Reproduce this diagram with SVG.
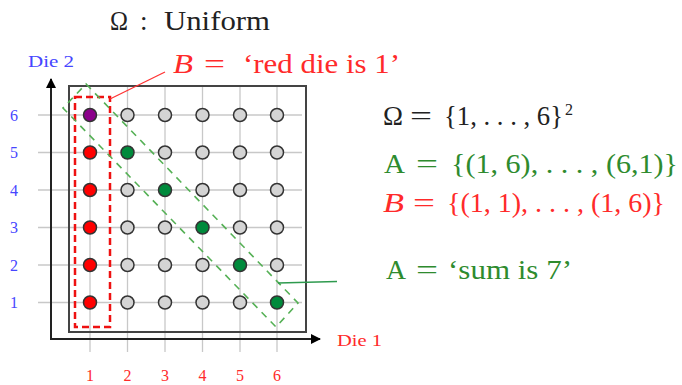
<svg xmlns="http://www.w3.org/2000/svg" width="682" height="385" viewBox="0 0 682 385">
<defs>
<style>
.grid{stroke:#c8c8c8;stroke-width:1.3}
.dot{stroke:#333;stroke-width:1.5}
.g{fill:#d4d4d4}
.r{fill:#ff0000}
.gr{fill:#008a3c}
.p{fill:#8b008b}
.blue{fill:#4646ff}
.red{fill:#ff2a2a}
.green{fill:#2e8b2e}
.dark{fill:#222}
</style>
<marker id="ah" markerWidth="10" markerHeight="10" refX="9" refY="5" orient="auto" markerUnits="userSpaceOnUse">
<path d="M0,0 L10,5 L0,10 Z" fill="#000"/>
</marker>
</defs>
<rect width="682" height="385" fill="#fff"/>
<g id="grid">
<line class="grid" x1="38" y1="115" x2="302" y2="115"/>
<line class="grid" x1="38" y1="152.5" x2="302" y2="152.5"/>
<line class="grid" x1="38" y1="190" x2="302" y2="190"/>
<line class="grid" x1="38" y1="227.5" x2="302" y2="227.5"/>
<line class="grid" x1="38" y1="265" x2="302" y2="265"/>
<line class="grid" x1="38" y1="302.5" x2="302" y2="302.5"/>
<line class="grid" x1="90" y1="86" x2="90" y2="352"/>
<line class="grid" x1="127.5" y1="86" x2="127.5" y2="352"/>
<line class="grid" x1="165" y1="86" x2="165" y2="352"/>
<line class="grid" x1="202.5" y1="86" x2="202.5" y2="352"/>
<line class="grid" x1="240" y1="86" x2="240" y2="352"/>
<line class="grid" x1="277" y1="86" x2="277" y2="352"/>
</g>
<rect id="frame" x="69" y="86" width="237" height="246" fill="none" stroke="#444" stroke-width="2"/>
<g id="axes" stroke="#222" stroke-width="2" fill="none">
<line x1="51" y1="339" x2="51" y2="79" marker-end="url(#ah)"/>
<line x1="50" y1="339" x2="320" y2="339" marker-end="url(#ah)"/>
</g>
<g id="dots">
<circle class="dot p" cx="90" cy="115" r="6.5"/>
<circle class="dot g" cx="127.5" cy="115" r="6.5"/>
<circle class="dot g" cx="165" cy="115" r="6.5"/>
<circle class="dot g" cx="202.5" cy="115" r="6.5"/>
<circle class="dot g" cx="240" cy="115" r="6.5"/>
<circle class="dot g" cx="277" cy="115" r="6.5"/>
<circle class="dot r" cx="90" cy="152.5" r="6.5"/>
<circle class="dot gr" cx="127.5" cy="152.5" r="6.5"/>
<circle class="dot g" cx="165" cy="152.5" r="6.5"/>
<circle class="dot g" cx="202.5" cy="152.5" r="6.5"/>
<circle class="dot g" cx="240" cy="152.5" r="6.5"/>
<circle class="dot g" cx="277" cy="152.5" r="6.5"/>
<circle class="dot r" cx="90" cy="190" r="6.5"/>
<circle class="dot g" cx="127.5" cy="190" r="6.5"/>
<circle class="dot gr" cx="165" cy="190" r="6.5"/>
<circle class="dot g" cx="202.5" cy="190" r="6.5"/>
<circle class="dot g" cx="240" cy="190" r="6.5"/>
<circle class="dot g" cx="277" cy="190" r="6.5"/>
<circle class="dot r" cx="90" cy="227.5" r="6.5"/>
<circle class="dot g" cx="127.5" cy="227.5" r="6.5"/>
<circle class="dot g" cx="165" cy="227.5" r="6.5"/>
<circle class="dot gr" cx="202.5" cy="227.5" r="6.5"/>
<circle class="dot g" cx="240" cy="227.5" r="6.5"/>
<circle class="dot g" cx="277" cy="227.5" r="6.5"/>
<circle class="dot r" cx="90" cy="265" r="6.5"/>
<circle class="dot g" cx="127.5" cy="265" r="6.5"/>
<circle class="dot g" cx="165" cy="265" r="6.5"/>
<circle class="dot g" cx="202.5" cy="265" r="6.5"/>
<circle class="dot gr" cx="240" cy="265" r="6.5"/>
<circle class="dot g" cx="277" cy="265" r="6.5"/>
<circle class="dot r" cx="90" cy="302.5" r="6.5"/>
<circle class="dot g" cx="127.5" cy="302.5" r="6.5"/>
<circle class="dot g" cx="165" cy="302.5" r="6.5"/>
<circle class="dot g" cx="202.5" cy="302.5" r="6.5"/>
<circle class="dot g" cx="240" cy="302.5" r="6.5"/>
<circle class="dot gr" cx="277" cy="302.5" r="6.5"/>
</g>
<g id="setB">
<rect x="75" y="97" width="35" height="230" fill="none" stroke="#ee1111" stroke-width="2.5" stroke-dasharray="7,4"/>
</g>
<g id="setA">
<polygon points="86,84 298,303 276,327 63,108" fill="none" stroke="#55b055" stroke-width="1.6" stroke-dasharray="7,6"/>
</g>
<g id="connectors">
<line x1="110" y1="99" x2="165" y2="72" stroke="#ff3333" stroke-width="1.3"/>
<line x1="278" y1="283" x2="337" y2="281.5" stroke="#2e9a4e" stroke-width="1.6"/>
</g>
<g id="labels" font-family="'Liberation Serif', serif" font-size="27">
<g id="title" class="dark">
<text x="110" y="30" textLength="18" lengthAdjust="spacingAndGlyphs">Ω</text>
<text x="140" y="30">:</text>
<text x="164" y="30" textLength="106" lengthAdjust="spacingAndGlyphs">Uniform</text>
</g>
<g id="labelB" class="red">
<text x="173" y="73" font-style="italic" textLength="20" lengthAdjust="spacingAndGlyphs">B</text>
<text x="204" y="73" textLength="21" lengthAdjust="spacingAndGlyphs">=</text>
<text x="243" y="73" textLength="157" lengthAdjust="spacingAndGlyphs">‘red die is 1’</text>
</g>
<text class="blue" x="28" y="67" font-size="16" textLength="46" lengthAdjust="spacingAndGlyphs">Die 2</text>
<text class="red" x="337" y="346" font-size="16" textLength="45" lengthAdjust="spacingAndGlyphs">Die 1</text>
<g class="blue" text-anchor="middle" font-size="16">
<text x="14" y="121">6</text>
<text x="14" y="158">5</text>
<text x="14" y="196">4</text>
<text x="14" y="233">3</text>
<text x="14" y="271">2</text>
<text x="14" y="308">1</text>
</g>
<g class="red" text-anchor="middle" font-size="16">
<text x="90" y="381">1</text>
<text x="127.5" y="381">2</text>
<text x="165" y="381">3</text>
<text x="202.5" y="381">4</text>
<text x="240" y="381">5</text>
<text x="277" y="381">6</text>
</g>
<g id="omega" class="dark">
<text x="383" y="125" textLength="20" lengthAdjust="spacingAndGlyphs">Ω</text>
<text x="410" y="125" textLength="22" lengthAdjust="spacingAndGlyphs">=</text>
<text x="444" y="125" textLength="119" lengthAdjust="spacingAndGlyphs">{1, . . . , 6}</text>
<text x="565" y="115" font-size="16">2</text>
</g>
<g id="setAdef" class="green">
<text x="384" y="173" textLength="21" lengthAdjust="spacingAndGlyphs">A</text>
<text x="416" y="173" textLength="22" lengthAdjust="spacingAndGlyphs">=</text>
<text x="451" y="173" textLength="227" lengthAdjust="spacingAndGlyphs">{(1, 6), . . . , (6,1)}</text>
</g>
<g id="setBdef" class="red">
<text x="383" y="212" font-style="italic" textLength="21" lengthAdjust="spacingAndGlyphs">B</text>
<text x="413" y="212" textLength="22" lengthAdjust="spacingAndGlyphs">=</text>
<text x="447" y="212" textLength="218" lengthAdjust="spacingAndGlyphs">{(1, 1), . . . , (1, 6)}</text>
</g>
<g id="sumdef" class="green">
<text x="386" y="279" textLength="20" lengthAdjust="spacingAndGlyphs">A</text>
<text x="416" y="279" textLength="22" lengthAdjust="spacingAndGlyphs">=</text>
<text x="448" y="279" textLength="124" lengthAdjust="spacingAndGlyphs">‘sum is 7’</text>
</g>
</g>
</svg>
